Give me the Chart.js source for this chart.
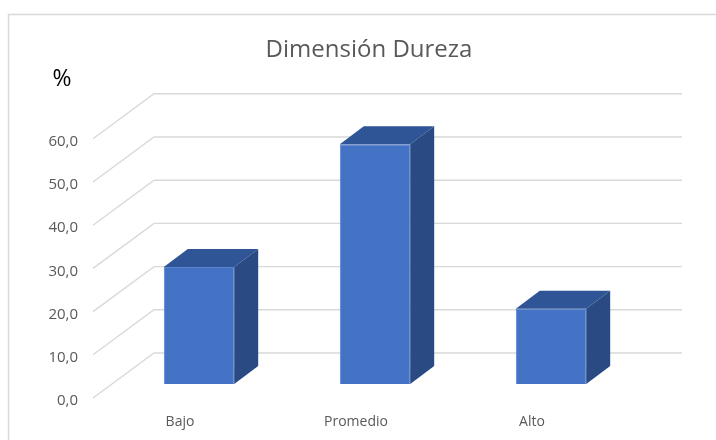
<!DOCTYPE html>
<html>
<head>
<meta charset="utf-8">
<script src="https://cdn.jsdelivr.net/npm/chart.js@4/dist/chart.umd.min.js"></script>
<style>
  html, body { margin: 0; padding: 0; background: #ffffff; }
  #wrap { width: 716px; height: 440px; }
</style>
</head>
<body>
<div id="wrap"><canvas id="c" width="716" height="440"></canvas></div>
<script>
const categories = ['Bajo', 'Promedio', 'Alto'];
const values = [27.1, 55.5, 17.4];
const yTicks = [0, 10, 20, 30, 40, 50, 60];
const chartTitle = 'Dimensión Dureza';
const unitLabel = '%';

const FRONT = '#4472C4', TOP = '#2F5597', SIDE = '#294A82', GRID = '#D9D9D9';
const WALL = { dx: 43, dy: -31 };   // bar front plane -> back wall
const EDGE = { dx: -18, dy: 14 };   // bar front plane -> front edge of floor
const DEPTH = { dx: 24, dy: -18 };  // bar depth

const threeD = {
  id: 'threeD',
  beforeDraw(chart) {
    const ctx = chart.ctx;
    ctx.save();
    ctx.fillStyle = '#ffffff';
    ctx.fillRect(0, 0, chart.width, chart.height);
    ctx.strokeStyle = GRID;
    ctx.lineWidth = 1.5;
    ctx.strokeRect(8.5, 14.5, 900, 900);
    ctx.restore();
  },
  beforeDatasetsDraw(chart) {
    const ctx = chart.ctx, y = chart.scales.y, a = chart.chartArea;
    ctx.save();
    ctx.strokeStyle = GRID;
    ctx.lineWidth = 1.4;
    yTicks.forEach(v => {
      const py = y.getPixelForValue(v);
      ctx.beginPath();
      ctx.moveTo(a.left + EDGE.dx, py + EDGE.dy);
      ctx.lineTo(a.left + WALL.dx, py + WALL.dy);
      ctx.lineTo(a.right + WALL.dx, py + WALL.dy);
      ctx.stroke();
    });
    ctx.restore();
  },
  afterDatasetsDraw(chart) {
    const ctx = chart.ctx;
    const meta = chart.getDatasetMeta(0);
    ctx.save();
    meta.data.forEach(bar => {
      const L = bar.x - bar.width / 2, R = bar.x + bar.width / 2;
      const T = bar.y, B = bar.base;
      ctx.fillStyle = TOP;
      ctx.beginPath();
      ctx.moveTo(L, T); ctx.lineTo(R, T);
      ctx.lineTo(R + DEPTH.dx, T + DEPTH.dy); ctx.lineTo(L + DEPTH.dx, T + DEPTH.dy);
      ctx.closePath(); ctx.fill();
      ctx.fillStyle = SIDE;
      ctx.beginPath();
      ctx.moveTo(R, T); ctx.lineTo(R + DEPTH.dx, T + DEPTH.dy);
      ctx.lineTo(R + DEPTH.dx, B + DEPTH.dy); ctx.lineTo(R, B);
      ctx.closePath(); ctx.fill();
    });
    ctx.restore();
  },
  afterDraw(chart) {
    const ctx = chart.ctx;
    ctx.save();
    ctx.fillStyle = '#000000';
    ctx.font = '23px "Open Sans", sans-serif';
    ctx.textAlign = 'center';
    ctx.textBaseline = 'middle';
    ctx.fillText(unitLabel, 62, 79);
    ctx.restore();
  }
};

new Chart(document.getElementById('c'), {
  type: 'bar',
  data: {
    labels: categories,
    datasets: [{
      data: values,
      backgroundColor: FRONT,
      borderColor: '#5A84CC',
      borderWidth: 1,
      categoryPercentage: 1,
      barPercentage: 0.4
    }]
  },
  options: {
    responsive: false,
    animation: false,
    events: [],
    layout: { padding: { top: 0, left: 22, right: 0, bottom: 0 } },
    plugins: {
      legend: { display: false },
      tooltip: { enabled: false },
      title: {
        display: true,
        text: chartTitle,
        color: '#595959',
        font: { family: '"Open Sans", sans-serif', size: 24, weight: 'normal', lineHeight: 1.2 },
        padding: { top: 36, bottom: 60 }
      }
    },
    scales: {
      x: {
        grid: { display: false, drawTicks: false },
        border: { display: false },
        ticks: {
          color: '#595959',
          font: { family: '"Open Sans", sans-serif', size: 14 },
          padding: 30,
          labelOffset: -19,
          maxRotation: 0
        },
        afterFit(s) { s.height = 56; }
      },
      y: {
        min: 0, max: 60,
        grid: { display: false, drawTicks: false },
        border: { display: false },
        ticks: {
          stepSize: 10,
          color: '#595959',
          font: { family: '"Open Sans", sans-serif', size: 15 },
          padding: 33,
          labelOffset: 17,
          callback: v => v.toFixed(1).replace('.', ',')
        },
        afterFit(s) { s.width = 89; }
      },
      yRight: {
        position: 'right',
        grid: { display: false, drawTicks: false },
        border: { display: false },
        ticks: { display: false },
        afterFit(s) { s.width = 77; }
      }
    }
  },
  plugins: [threeD]
});
</script>
</body>
</html>
